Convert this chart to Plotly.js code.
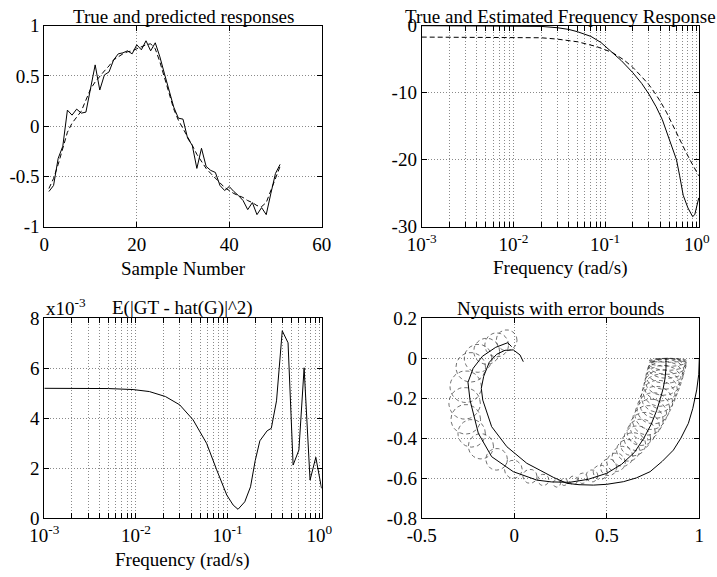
<!DOCTYPE html>
<html><head><meta charset="utf-8">
<script src="https://cdn.plot.ly/plotly-3.0.1.min.js"></script>
<style>html,body{margin:0;padding:0;background:#fff}</style>
</head><body><div id="chart" style="width:717px;height:577px"></div>
<script>
// ---- Panel 1: true and predicted responses ----
const sampleNumber = [1,2,3,4,5,6,7,8,9,10,11,12,13,14,15,16,17,18,19,20,21,22,23,24,25,26,27,28,29,30,31,32,33,34,35,36,37,38,39,40,41,42,43,44,45,46,47,48,49,50,51];
const trueResponse = [-0.65,-0.59,-0.32,-0.20,0.16,0.11,0.17,0.13,0.14,0.38,0.61,0.36,0.51,0.54,0.66,0.72,0.73,0.75,0.72,0.81,0.76,0.85,0.75,0.83,0.69,0.52,0.36,0.19,0.08,0.07,-0.12,-0.19,-0.42,-0.22,-0.40,-0.44,-0.46,-0.59,-0.64,-0.60,-0.65,-0.69,-0.74,-0.83,-0.76,-0.88,-0.81,-0.88,-0.67,-0.47,-0.38];
const predictedResponse = [-0.62,-0.52,-0.38,-0.22,-0.06,0.03,0.09,0.15,0.26,0.37,0.44,0.50,0.55,0.60,0.66,0.69,0.72,0.74,0.75,0.77,0.79,0.81,0.82,0.77,0.64,0.48,0.32,0.17,0.06,-0.02,-0.11,-0.19,-0.28,-0.35,-0.42,-0.47,-0.52,-0.57,-0.61,-0.64,-0.67,-0.69,-0.71,-0.74,-0.76,-0.79,-0.80,-0.76,-0.64,-0.50,-0.40];

// ---- Panel 2: frequency response magnitude (dB) ----
const freqTrue = [0.001,0.003,0.01,0.02,0.03,0.04,0.05,0.07,0.09,0.12,0.15,0.2,0.25,0.3,0.36,0.42,0.47,0.55,0.6,0.65,0.71,0.8,0.9,0.95,1.05];
const magTrue  = [0,0,-0.02,-0.1,-0.3,-0.55,-0.9,-1.6,-2.5,-4.0,-5.2,-7.0,-8.6,-10.2,-12.1,-14.0,-15.8,-18.3,-20,-22.4,-25.3,-27.2,-28.5,-28.2,-25.7];
const freqEst  = [0.001,0.01,0.02,0.03,0.05,0.08,0.12,0.16,0.2,0.25,0.3,0.347,0.4,0.47,0.55,0.65,0.75,0.84,0.95,1.05];
const magEst   = [-1.7,-1.75,-1.8,-2.0,-2.4,-3.1,-4.0,-5.1,-6.2,-7.6,-8.8,-10,-11.3,-13,-15,-17,-18.7,-20,-21.3,-22.4];

// ---- Panel 3: expected squared error ----
const freqErr = [0.001,0.005,0.0093,0.014,0.021,0.030,0.042,0.059,0.076,0.098,0.115,0.13,0.154,0.178,0.2,0.225,0.27,0.30,0.342,0.395,0.457,0.519,0.60,0.684,0.794,0.918,1.06];
const errVar  = [5.2e-3,5.19e-3,5.15e-3,5.07e-3,4.87e-3,4.54e-3,3.94e-3,3.0e-3,1.94e-3,0.93e-3,0.53e-3,0.36e-3,0.66e-3,1.26e-3,2.3e-3,3.1e-3,3.5e-3,3.6e-3,4.7e-3,7.5e-3,7.02e-3,2.13e-3,2.73e-3,6.02e-3,1.53e-3,2.44e-3,1.2e-3];

// ---- Panel 4: Nyquist curves with error bounds ----
const nyqTrueRe = [1.0,0.997,0.986,0.965,0.941,0.90,0.86,0.80,0.734,0.66,0.59,0.50,0.428,0.35,0.284,0.211,0.14,0.068,-0.04,-0.122,-0.17,-0.178,-0.165,-0.135,-0.095,-0.05,-0.005,0.031,0.049];
const nyqTrueIm = [0,-0.08,-0.158,-0.25,-0.325,-0.40,-0.459,-0.515,-0.567,-0.598,-0.617,-0.63,-0.634,-0.632,-0.625,-0.595,-0.56,-0.525,-0.442,-0.342,-0.209,-0.15,-0.09,-0.02,0.02,0.04,0.042,0.017,-0.017];
const nyqEstRe = [0.82,0.82,0.815,0.805,0.79,0.77,0.74,0.70,0.65,0.58,0.5,0.4,0.3,0.2,0.122,-0.005,-0.122,-0.194,-0.239,-0.25,-0.222,-0.172,-0.10,-0.035,-0.014];
const nyqEstIm = [0,-0.05,-0.1,-0.15,-0.2,-0.26,-0.33,-0.40,-0.47,-0.53,-0.575,-0.605,-0.62,-0.618,-0.609,-0.567,-0.492,-0.375,-0.209,-0.12,-0.05,0.01,0.055,0.078,0.058];
// error-bound ellipses: centre (re, im) and semi-axes (along re, along im)
const boundRe  = [0.83,0.83,0.83,0.828,0.825,0.818,0.812,0.805,0.797,0.788,0.778,0.766,0.752,0.738,0.722,0.705,0.686,0.665,0.642,0.615,0.585,0.55,0.51,0.465,0.42,0.37,0.32,0.27,0.23,0.157,0.085,-0.005,-0.095,-0.18,-0.23,-0.262,-0.268,-0.262,-0.235,-0.195,-0.149,-0.095,-0.041];
const boundIm  = [-0.01,-0.02,-0.03,-0.04,-0.05,-0.065,-0.085,-0.11,-0.135,-0.16,-0.19,-0.22,-0.25,-0.28,-0.31,-0.34,-0.37,-0.40,-0.43,-0.46,-0.49,-0.52,-0.545,-0.57,-0.588,-0.6,-0.61,-0.618,-0.625,-0.608,-0.59,-0.555,-0.505,-0.44,-0.375,-0.305,-0.225,-0.142,-0.045,0.0,0.035,0.067,0.09];
const boundRadRe = [0.1,0.1,0.1,0.1,0.1,0.1,0.1,0.098,0.096,0.094,0.092,0.09,0.088,0.086,0.083,0.08,0.076,0.072,0.068,0.062,0.056,0.05,0.044,0.038,0.032,0.026,0.022,0.018,0.02,0.03,0.038,0.048,0.058,0.068,0.074,0.08,0.085,0.085,0.08,0.075,0.07,0.064,0.056];
const boundRadIm = [0.01,0.02,0.03,0.04,0.05,0.06,0.07,0.075,0.078,0.08,0.08,0.08,0.078,0.076,0.074,0.07,0.066,0.062,0.058,0.054,0.05,0.046,0.042,0.036,0.03,0.026,0.022,0.018,0.019,0.028,0.035,0.045,0.054,0.063,0.069,0.074,0.079,0.079,0.074,0.07,0.065,0.06,0.052];

// ---- tick labels ----
const logMajorVals = [0.001, 0.01, 0.1, 1];
const logTickText = ['10<sup>-3</sup>','10<sup>-2</sup>','10<sup>-1</sup>','10<sup>0</sup>'];

// build ellipse outlines from centres and semi-axes
const ellX = [], ellY = [];
for (let k = 0; k < boundRe.length; k++) {
  for (let j = 0; j <= 40; j++) {
    const t = 2 * Math.PI * j / 40;
    ellX.push(boundRe[k] + boundRadRe[k] * Math.cos(t));
    ellY.push(boundIm[k] + boundRadIm[k] * Math.sin(t));
  }
  ellX.push(null); ellY.push(null);
}

// minor log grid positions (2..9 x decade)
const logMinorVals = [];
logMajorVals.slice(0, 3).forEach(d => { for (let m = 2; m <= 9; m++) logMinorVals.push(m * d); });

const FONT = 'Liberation Serif, Times New Roman, serif';
const W = 717, H = 577;
const px = v => v / W, py = v => 1 - v / H;

const GRID = { gridcolor: '#8a8a8a', griddash: '1px,2px', gridwidth: 1 };
const base = Object.assign({
  showline: true, linecolor: '#000', linewidth: 1, mirror: 'ticks',
  ticks: 'inside', ticklen: 5, tickwidth: 1, tickcolor: '#000',
  showgrid: true, zeroline: false, fixedrange: true,
  tickfont: { family: FONT, size: 19, color: '#000' }
}, GRID);
const lin = (o) => Object.assign({}, base, o);
const logMinor = Object.assign({ tickvals: logMinorVals, ticks: 'inside', ticklen: 5, tickcolor: '#000', showgrid: true }, GRID);

const solid = { color: '#000', width: 1 };
const dashed = { color: '#000', width: 1, dash: '5px,3px' };

const traces = [
  { x: sampleNumber, y: trueResponse, xaxis: 'x', yaxis: 'y', mode: 'lines', line: solid },
  { x: sampleNumber, y: predictedResponse, xaxis: 'x', yaxis: 'y', mode: 'lines', line: dashed },
  { x: freqTrue, y: magTrue, xaxis: 'x2', yaxis: 'y2', mode: 'lines', line: solid },
  { x: freqEst, y: magEst, xaxis: 'x2', yaxis: 'y2', mode: 'lines', line: dashed },
  { x: freqErr, y: errVar, xaxis: 'x3', yaxis: 'y3', mode: 'lines', line: solid },
  { x: ellX, y: ellY, xaxis: 'x4', yaxis: 'y4', mode: 'lines', line: { color: '#333', width: 0.7, dash: '4px,3px' }, connectgaps: false },
  { x: nyqTrueRe, y: nyqTrueIm, xaxis: 'x4', yaxis: 'y4', mode: 'lines', line: solid },
  { x: nyqEstRe, y: nyqEstIm, xaxis: 'x4', yaxis: 'y4', mode: 'lines', line: solid }
];

const domL = [px(44.3), px(321.7)], domR = [px(421.7), px(699.3)];
const domT = [py(226.7), py(25.7)], domB = [py(518.3), py(318.3)];

const layout = {
  width: W, height: H, autosize: false, showlegend: false,
  margin: { l: 0, r: 0, t: 0, b: 0 },
  paper_bgcolor: '#fff', plot_bgcolor: '#fff',
  font: { family: FONT, size: 19, color: '#000' },
  xaxis: lin({ domain: domL, anchor: 'y', range: [0, 60], tickvals: [0,20,40,60], ticktext: ['0','20','40','60'] }),
  yaxis: lin({ domain: domT, anchor: 'x', range: [-1, 1], tickvals: [-1,-0.5,0,0.5,1], ticktext: ['-1','-0.5','0','0.5','1'] }),
  xaxis2: lin({ domain: domR, anchor: 'y2', type: 'log', range: [-3, 0.027], tickvals: logMajorVals, ticktext: logTickText, minor: logMinor }),
  yaxis2: lin({ domain: domT, anchor: 'x2', range: [-30, 0], tickvals: [-30,-20,-10,0], ticktext: ['-30','-20','-10','0'] }),
  xaxis3: lin({ domain: domL, anchor: 'y3', type: 'log', range: [-3, 0.027], tickvals: logMajorVals, ticktext: logTickText, minor: logMinor }),
  yaxis3: lin({ domain: domB, anchor: 'x3', range: [0, 0.008], tickvals: [0,0.002,0.004,0.006,0.008], ticktext: ['0','2','4','6','8'] }),
  xaxis4: lin({ domain: domR, anchor: 'y4', range: [-0.5, 1], tickvals: [-0.5,0,0.5,1], ticktext: ['-0.5','0','0.5','1'] }),
  yaxis4: lin({ domain: domB, anchor: 'x4', range: [-0.8, 0.2], tickvals: [-0.8,-0.6,-0.4,-0.2,0,0.2], ticktext: ['-0.8','-0.6','-0.4','-0.2','0','0.2'] }),
  annotations: [
    { text: 'True and predicted responses', x: px(183), y: py(28), yanchor: 'bottom' },
    { text: 'Sample Number', x: px(183), y: py(280), yanchor: 'bottom' },
    { text: 'True and Estimated Frequency Response', x: px(560.5), y: py(28), yanchor: 'bottom' },
    { text: 'Frequency (rad/s)', x: px(560.5), y: py(280), yanchor: 'bottom' },
    { text: 'E(|GT - hat(G)|^2)', x: px(182), y: py(320), yanchor: 'bottom' },
    { text: 'x10<sup>-3</sup>', x: px(45), y: py(320), yanchor: 'bottom', xanchor: 'left' },
    { text: 'Frequency (rad/s)', x: px(182), y: py(572), yanchor: 'bottom' },
    { text: 'Nyquists with error bounds', x: px(560.5), y: py(320), yanchor: 'bottom' }
  ].map(a => Object.assign({ xref: 'paper', yref: 'paper', showarrow: false, xanchor: 'center', borderpad: 0,
    font: { family: FONT, size: 19, color: '#000' } }, a))
};

Plotly.newPlot('chart', traces, layout, { staticPlot: true, displayModeBar: false });
</script>
</body></html>
